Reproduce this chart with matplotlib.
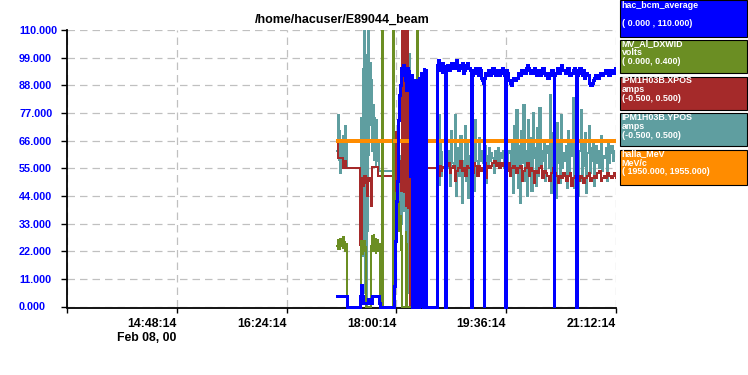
import numpy as np
import matplotlib
matplotlib.use('Agg')
import matplotlib.pyplot as plt
from matplotlib.patches import Rectangle

plt.rcParams['font.family'] = ['Liberation Sans', 'DejaVu Sans']

# ---------------- data (time in minutes after 13:12:14, Feb 08, 00) ----------------
title = "/home/hacuser/E89044_beam"
x_ticks = [0, 96, 192, 288, 384, 480]
x_tick_labels = ["", "14:48:14\nFeb 08, 00", "16:24:14", "18:00:14", "19:36:14", "21:12:14"]
y_ticks = [0, 11, 22, 33, 44, 55, 66, 77, 88, 99, 110]
y_tick_labels = ["0.000", "11.000", "22.000", "33.000", "44.000", "55.000",
                 "66.000", "77.000", "88.000", "99.000", "110.000"]

# hac_bcm_average (displayed scale 0..110)
beam_head_t = [236.1, 244.8, 256.5, 257.3, 258.0, 258.6, 262.5, 263.2, 264.0, 266.5, 272.0, 272.6, 273.4,
               285.4, 285.9, 286.4, 286.9, 287.5, 288.0, 288.5, 289.1, 289.7, 290.3, 291.0, 291.7, 292.4,
               293.1, 293.8, 294.5, 295.2, 295.8, 296.4, 297.0, 297.6, 298.2, 298.8, 299.4, 300.0, 300.6,
               301.2, 301.6, 302.2, 302.9, 303.5, 304.1, 304.8, 305.4, 306.0, 306.7, 307.3, 307.9, 308.6,
               309.2, 309.8, 310.5, 311.1, 311.7, 312.4, 313.0, 313.9, 323.5, 323.8, 324.5, 325.2, 325.9,
               326.5, 327.0, 327.6, 328.2, 328.8, 329.4, 330.0, 330.5, 331.2]
beam_head_v = [4.2, 0, 4.2, 8.5, 4.2, 1.5, 1.5, 3, 1.5, 4.2, 4.2, 1.5, 0,
               0, 8, 18, 26, 34, 42, 50, 62, 74, 84, 88, 92, 95,
               93, 96, 92, 94, 90, 86, 93, 95, 92, 94, 90, 52, 88,
               92, 0, 86, 90, 0, 85, 88, 0, 90, 87, 0, 91, 88,
               0, 93, 90, 0, 95, 92, 94, 0, 0, 96, 98, 95, 97,
               94, 96, 93, 97, 94, 96, 95, 0, 95]
beam_tail_start, beam_tail_step = 332.0, 1.0
beam_tail_v = [96, 95, 94, 96, 97, 95, 95, 97, 98, 96,
               94, 95, 96, 97, 93, 94, 95, 96, 97, 95,
               94, 93, 92, 93, 94, 95, 93, 92, 95, 94,
               91, 90, 89, 91, 92, 93, 94, 93, 92, 93,
               95, 94, 92, 93, 94, 93, 92, 94, 95, 93,
               92, 91, 94, 93, 90, 89, 88, 90, 91, 90,
               90, 91, 93, 92, 92, 94, 94, 93, 93, 95,
               96, 95, 94, 93, 93, 94, 95, 94, 92, 93,
               94, 92, 93, 95, 95, 93, 92, 93, 91, 92,
               93, 94, 94, 92, 92, 93, 95, 94, 93, 95,
               96, 94, 94, 93, 93, 95, 95, 92, 92, 93,
               94, 95, 93, 92, 92, 94, 95, 93, 92, 94,
               91, 92, 93, 92, 89, 88, 88, 89, 90, 91,
               92, 91, 91, 92, 93, 92, 92, 93, 94, 94,
               93, 92, 92, 94, 94, 93, 94, 95, 94]
beam_drop_t = [353.2, 364.6, 383.1, 383.9, 425.8, 445.0]
beam_drop_back = [93, 93, 92, 91, 93, 93]

# MV_Al_DXWID (volts, shown on 0..110 scale)
green_t = [236.1, 236.7, 237.3, 237.9, 238.5, 239.1, 239.7, 240.3, 240.9, 241.5, 242.1, 242.7, 243.3, 243.9,
           244.5, 244.8, 256.2, 256.8, 257.4, 258.0, 258.6, 259.2, 259.8, 260.4, 261.0, 261.6, 265.8, 266.2,
           266.8, 267.4, 268.0, 268.6, 269.2, 269.8, 270.4, 271.0, 271.6, 272.2, 272.8, 273.4, 275.5, 275.8,
           276.6, 284.8, 285.1, 285.8, 286.4, 287.0, 287.6, 288.2, 288.8, 289.4, 290.0, 290.6, 291.2, 291.8,
           292.4, 293.0, 295.5, 296.0, 296.8, 297.4, 306.0, 306.2, 306.9, 308.0]
green_v = [24, 27, 23, 26, 22.5, 27, 24, 26.5, 23, 27.5, 24, 26, 22, 25,
           23, 0, 0, 22, 26, 21, 25, 23, 26, 22, 24, 0, 0, 24,
           28, 22, 29, 24, 27, 21, 26, 23, 27, 22, 25, 0, 0, 120,
           0, 0, 120, 25, 35, 30, 45, 38, 48, 40, 42, 30, 36, 22,
           28, 0, 0, 30, 25, 0, 0, 120, 0, 0]

# IPM1H03B.XPOS (amps, shown on 0..110 scale)
xpos_head_t = [236.1, 236.9, 240.4, 241.0, 243.0, 244.0, 256.2, 256.5, 257.5, 258.5, 259.5, 261.0, 262.3,
               263.0, 265.0, 266.0, 267.0, 271.9, 285.0, 285.6, 286.2, 286.8, 287.4, 288.0, 288.6, 289.2,
               290.0, 291.0, 292.0, 292.9, 293.5, 294.0, 294.5, 295.0, 295.5, 296.0, 296.5, 297.0, 297.5,
               298.0, 298.5, 299.2, 299.9, 300.3, 300.6, 301.2, 301.8, 302.4, 303.0, 303.6, 304.2, 304.8,
               305.4, 306.0, 306.6, 307.2, 307.8, 308.4, 309.0, 309.6, 310.2, 311.0, 312.0, 313.0, 323.5,
               324.0, 325.0, 326.0, 327.0, 328.0]
xpos_head_v = [66, 59, 59, 55, 58, 55, 55, 24.5, 51, 48, 52, 49, 44,
               51, 50, 40, 55.5, 52, 73, 48, 66, 45, 70, 50, 62, 55,
               58, 52, 46, 120, 50, 120, 45, 120, 52, 120, 40, 120, 48,
               120, 39, 60, 0, 55, 58, 48, 60, 50, 56, 46, 58, 52,
               60, 49, 57, 53, 59, 51, 56, 54, 58, 53, 56, 55, 55,
               55.5, 52, 56, 54, 55.5]
xpos_tail_start, xpos_tail_step = 330.0, 1.5
xpos_tail_v = [55, 56, 57, 53, 55, 56, 50, 54, 55, 58, 54, 55,
               52, 56, 55, 55, 53, 57, 56, 52, 56, 54, 55, 57,
               51, 56, 55, 56, 57, 58, 56, 57, 55, 57, 56, 56,
               54, 57, 52, 55, 56, 55, 53, 55, 56, 50, 54, 55,
               57, 52, 55, 54, 49, 54, 53, 55, 56, 51, 54, 53,
               52, 50, 53, 55, 53, 52, 49, 52, 51, 53, 52, 50,
               52, 53, 48, 51, 52, 53, 50, 52, 51, 49, 51, 52,
               53, 50, 51, 52, 51, 53, 54, 50, 51, 52, 51, 53,
               52, 51, 52, 53, 51, 52, 51]

# IPM1H03B.YPOS (amps, shown on 0..110 scale)
ypos_head_t = [236.1, 236.9, 237.5, 238.2, 238.8, 239.5, 240.4, 241.2, 242.0, 242.8, 243.6, 244.3, 244.8,
               256.2, 256.5, 257.0, 257.8, 258.5, 259.0, 259.6, 260.2, 260.8, 261.4, 262.0, 262.6, 263.2,
               263.8, 264.4, 265.0, 265.6, 266.2, 266.8, 267.4, 268.0, 268.6, 269.3, 270.0, 270.6, 271.2,
               271.9, 272.6, 285.0, 285.6, 286.2, 286.8, 287.4, 288.0, 288.6, 289.2, 289.8, 290.4, 291.1,
               291.8, 292.4, 293.0, 293.6, 294.2, 294.8, 295.4, 296.0, 296.6, 297.2, 297.8, 298.4, 299.0,
               299.6, 300.2, 300.8, 301.4, 302.0, 302.6, 303.2, 303.8, 304.4, 305.0, 305.6, 306.2, 306.8,
               307.4, 308.0, 308.6, 309.2, 309.8, 310.4, 311.0, 311.6, 312.2, 313.0, 323.5, 324.0, 324.6,
               325.2, 325.8, 326.4, 327.0, 327.6, 328.2, 329.0]
ypos_head_v = [62, 76, 58, 70, 53, 66, 60, 68, 58, 72, 55, 65, 55,
               55, 40, 75, 30, 95, 20, 110, 5, 100, 0, 85, 30, 110,
               60, 80, 97, 72, 90, 62, 80, 58, 75, 70, 55, 74, 58,
               65, 54, 54, 62, 40, 68, 35, 58, 30, 65, 45, 60, 40,
               55, 33, 58, 45, 62, 38, 55, 100, 20, 90, 5, 70, 30,
               101, 10, 80, 40, 60, 35, 55, 20, 62, 48, 68, 50, 65,
               52, 62, 48, 66, 55, 60, 50, 64, 52, 55, 55, 70, 50,
               76, 48, 66, 52, 62, 55, 55]
ypos_tail_start, ypos_tail_step = 334.0, 1.0
ypos_tail_v = [62, 48, 70, 57, 55, 76, 44, 60, 63, 52, 68, 41, 58, 55, 72, 50,
               66, 43, 60, 79, 55, 62, 46, 74, 58, 52, 67, 58, 62, 60, 57, 64,
               49, 60, 56, 63, 58, 61, 59, 53, 62, 58, 60, 63, 57, 61, 59, 62,
               55, 60, 64, 58, 62, 61, 53, 66, 45, 72, 55, 78, 47, 64, 41, 70,
               57, 80, 50, 62, 44, 74, 53, 67, 46, 77, 59, 63, 48, 71, 52, 79,
               56, 62, 58, 66, 50, 61, 64, 55, 84, 45, 69, 54, 60, 43, 73, 57,
               66, 49, 76, 55, 61, 58, 64, 47, 70, 52, 65, 60, 83, 47, 64, 52,
               70, 44, 62, 78, 50, 65, 56, 69, 45, 61, 72, 53, 63, 58, 66, 48,
               64, 57, 62, 55, 61, 68, 54, 60, 59, 63, 50, 66, 57, 61, 64, 58,
               62]

# halla_MeV (MeV/c, shown on 0..110 scale), gap marked by nan
mev_t = [236.9, 282.4, 282.5, 286.8, 480.0]
mev_v = [66, 66, np.nan, 66, 66]

# legend boxes
leg_names = ["hac_bcm_average", "MV_Al_DXWID", "IPM1H03B.XPOS", "IPM1H03B.YPOS", "halla_MeV"]
leg_units = ["", "volts", "amps", "amps", "MeV/c"]
leg_ranges = ["( 0.000 , 110.000)", "( 0.000, 0.400)", "(-0.500, 0.500)", "(-0.500, 0.500)",
              "( 1950.000, 1955.000)"]
leg_colors = ["#0000FF", "#6B8E23", "#A52A2A", "#5F9EA0", "#FF8C00"]

# ---------------- assemble series ----------------
def tail(start, step, vals):
    return [start + step * i for i in range(len(vals))]

bt = beam_head_t + tail(beam_tail_start, beam_tail_step, beam_tail_v)
bv = beam_head_v + beam_tail_v
for dt, back in zip(beam_drop_t, beam_drop_back):
    bt += [dt, dt + 0.5]
    bv += [0, back]
order = np.argsort(bt, kind='stable')
beam_t = np.array(bt)[order]
beam_v = np.array(bv, dtype=float)[order]

xpos_t = xpos_head_t + tail(xpos_tail_start, xpos_tail_step, xpos_tail_v)
xpos_v = xpos_head_v + xpos_tail_v
ypos_t = ypos_head_t + tail(ypos_tail_start, ypos_tail_step, ypos_tail_v)
ypos_v = ypos_head_v + ypos_tail_v

# ---------------- figure ----------------
W, H = 748, 375
fig = plt.figure(figsize=(W / 100, H / 100), dpi=100)
fig.patch.set_facecolor('white')
L, R, T, B = 67, 616, 30, 306.5
ax = fig.add_axes([L / W, 1 - B / H, (R - L) / W, (B - T) / H])
ax.set_xlim(0, 480)
ax.set_ylim(0, 110)

clip = Rectangle((0, -0.008), 1, 1.008, transform=ax.transAxes, facecolor='none', edgecolor='none')

def draw(t, v, color, lw, z):
    ln, = ax.plot(t, v, color=color, lw=lw, drawstyle='steps-post', zorder=z,
                  solid_joinstyle='miter', antialiased=False)
    ln.set_clip_path(clip)

draw(ypos_t, ypos_v, leg_colors[3], 1.4, 3)
draw(xpos_t, xpos_v, leg_colors[2], 1.4, 4)
draw(green_t, green_v, leg_colors[1], 1.4, 5)
draw(mev_t, mev_v, leg_colors[4], 1.5, 6)
draw(beam_t, beam_v, leg_colors[0], 2.0, 7)

# grid
ax.set_xticks(x_ticks)
ax.set_yticks(y_ticks)
ax.grid(True, color='#c0c0c0', linestyle=(0, (6, 4)), linewidth=0.9, zorder=0)
ax.set_axisbelow(True)

for s in ['top', 'right']:
    ax.spines[s].set_visible(False)
ax.spines['left'].set_linewidth(1.3)
ax.spines['bottom'].set_linewidth(1.3)
ax.spines['bottom'].set_position(('outward', 1.1))

ax.set_xticklabels(x_tick_labels, fontsize=8.8, fontweight='bold', color='black',
                   ha='right', multialignment='right')
ax.set_yticklabels(y_tick_labels, fontsize=7.8, fontweight='bold', color='#0000FF')
for lab in ax.get_yticklabels():
    lab.set_horizontalalignment('left')
ax.tick_params(axis='y', length=4.3, width=1, pad=30.2, color='black')
ax.tick_params(axis='x', length=3.6, width=1, pad=3.4, color='black')

fig.text(342 / W, 1 - 20 / H, title, ha='center', va='center', fontsize=9, fontweight='bold')

# legend boxes
boxes = [(0, 37), (40, 73), (77, 110), (113, 146), (150, 185)]
line_y = [(6, 15, 24), (43.5, 52.5, 61.5), (80.5, 89.5, 98.5), (117, 126, 135), (154, 163, 172)]
for (y0, y1), ly, name, unit, rng, col in zip(boxes, line_y, leg_names, leg_units, leg_ranges, leg_colors):
    fig.add_artist(Rectangle((620 / W, 1 - y1 / H), 127 / W, (y1 - y0) / H, transform=fig.transFigure,
                             facecolor=col, edgecolor='black', linewidth=0.8))
    for txt, yy in zip([name, unit, rng], ly):
        if txt:
            fig.text(621.5 / W, 1 - yy / H, txt, ha='left', va='center', fontsize=6.4,
                     fontweight='bold', color='white')

fig.savefig('out.png', dpi=100)
